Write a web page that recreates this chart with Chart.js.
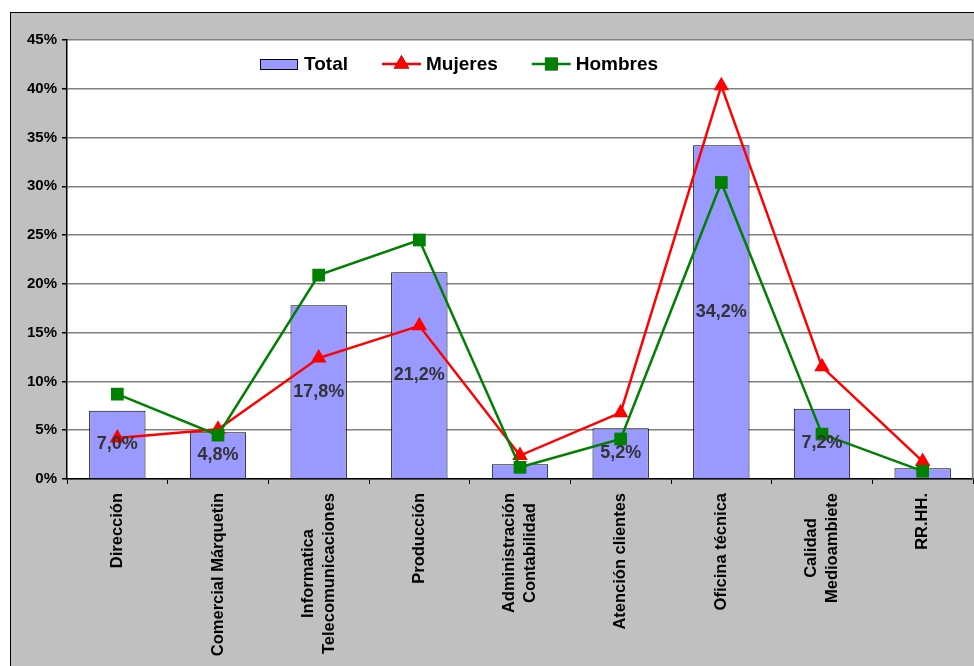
<!DOCTYPE html>
<html>
<head>
<meta charset="utf-8">
<script src="https://cdn.jsdelivr.net/npm/chart.js@4.4.0/dist/chart.umd.min.js"></script>
<style>
  html, body { margin: 0; padding: 0; background: #fff; }
  #chart { display: block; }
</style>
</head>
<body>
<canvas id="chart" width="974" height="666"></canvas>
<script>
// categories and series (percent)
const categorias = [
    'Dirección',
    'Comercial Márquetin',
    ['Informatica', 'Telecomunicaciones'],
    'Producción',
    ['Administración', 'Contabilidad'],
    'Atención clientes',
    'Oficina técnica',
    ['Calidad', 'Medioambiete'],
    'RR.HH.'
];
const total   = [7.0, 4.8, 17.8, 21.2, 1.5, 5.2, 34.2, 7.2, 1.1];
const mujeres = [4.2, 5.1, 12.4, 15.7, 2.4, 6.8, 40.3, 11.5, 1.8];
const hombres = [8.7, 4.5, 20.9, 24.5, 1.2, 4.1, 30.4, 4.6, 0.8];
const yMax = 45;
const yStep = 5;

const FONT = "'Liberation Sans', Arial, sans-serif";

// grey frame behind everything, white plot area
const fondo = {
    id: 'fondo',
    beforeDraw(chart) {
        const { ctx, chartArea: a, width, height } = chart;
        ctx.save();
        ctx.fillStyle = '#fff';
        ctx.fillRect(0, 0, width, height);
        ctx.fillStyle = '#c0c0c0';
        ctx.fillRect(10, 12, width - 10, height - 12);
        ctx.strokeStyle = '#000';
        ctx.lineWidth = 1;
        ctx.strokeRect(10.5, 12.5, width, height);
        ctx.fillStyle = '#fff';
        ctx.fillRect(a.left, a.top, a.right - a.left, a.bottom - a.top);
        ctx.restore();
    },
    afterDraw(chart) {
        const { ctx, chartArea: a } = chart;
        ctx.save();
        ctx.strokeStyle = '#808080';
        ctx.lineWidth = 1.5;
        ctx.beginPath();
        ctx.moveTo(a.right - 0.5, a.top);
        ctx.lineTo(a.right - 0.5, a.bottom);
        ctx.stroke();
        ctx.restore();
    }
};

// rotated category labels, lines centred on each other
const etiquetasX = {
    id: 'etiquetasX',
    afterDraw(chart) {
        const { ctx } = chart;
        const xs = chart.scales.x;
        const top = chart.chartArea.bottom + 14;
        const lh = 21;
        ctx.save();
        ctx.font = 'bold 16.5px ' + FONT;
        ctx.fillStyle = '#000';
        ctx.textAlign = 'center';
        ctx.textBaseline = 'middle';
        categorias.forEach((c, i) => {
            const lines = Array.isArray(c) ? c : [c];
            const w = Math.max(...lines.map(l => ctx.measureText(l).width));
            const x = xs.getPixelForTick(i);
            ctx.save();
            ctx.translate(x, top + w / 2);
            ctx.rotate(-Math.PI / 2);
            lines.forEach((l, j) => {
                ctx.fillText(l, 0, (j - (lines.length - 1) / 2) * lh);
            });
            ctx.restore();
        });
        ctx.restore();
    }
};

// value labels in the middle of the bars
const valores = {
    id: 'valores',
    afterDatasetsDraw(chart) {
        const { ctx } = chart;
        const meta = chart.getDatasetMeta(0);
        ctx.save();
        ctx.font = 'bold 18px ' + FONT;
        ctx.fillStyle = '#333';
        ctx.textAlign = 'center';
        ctx.textBaseline = 'middle';
        meta.data.forEach((bar, i) => {
            if (total[i] < 2) return;
            const txt = total[i].toFixed(1).replace('.', ',') + '%';
            ctx.fillText(txt, bar.x, (bar.y + bar.base) / 2);
        });
        ctx.restore();
    }
};

// legend inside the plot area
const leyenda = {
    id: 'leyenda',
    afterDraw(chart) {
        const { ctx } = chart;
        const y = 64;
        let x = 260;
        ctx.save();
        ctx.font = 'bold 19px ' + FONT;
        ctx.textBaseline = 'middle';
        ctx.textAlign = 'left';
        chart.data.datasets.forEach(ds => {
            if (ds.type === 'bar') {
                ctx.fillStyle = ds.backgroundColor;
                ctx.fillRect(x, y - 5, 37, 10);
                ctx.strokeStyle = '#000';
                ctx.lineWidth = 1;
                ctx.strokeRect(x + 0.5, y - 4.5, 37, 10);
            } else {
                ctx.strokeStyle = ds.borderColor;
                ctx.lineWidth = 2.5;
                ctx.beginPath();
                ctx.moveTo(x, y);
                ctx.lineTo(x + 39, y);
                ctx.stroke();
                Chart.helpers.drawPoint(ctx, {
                    pointStyle: ds.pointStyle,
                    radius: ds.pointRadius,
                    borderWidth: 0,
                    rotation: 0
                }, x + 19.5, y);
                ctx.fillStyle = ds.pointBackgroundColor;
                ctx.fill();
            }
            ctx.fillStyle = '#000';
            ctx.fillText(ds.label, x + 44, y + 1);
            x += 44 + ctx.measureText(ds.label).width + 34;
        });
        ctx.restore();
    }
};

new Chart(document.getElementById('chart'), {
    data: {
        labels: categorias,
        datasets: [
            {
                type: 'bar',
                label: 'Total',
                data: total,
                backgroundColor: '#9999ff',
                borderColor: '#000',
                borderWidth: 1,
                barPercentage: 0.56,
                categoryPercentage: 1,
                order: 3
            },
            {
                type: 'line',
                label: 'Mujeres',
                data: mujeres,
                borderColor: '#ff0000',
                backgroundColor: '#ff0000',
                pointBackgroundColor: '#ff0000',
                pointBorderColor: '#ff0000',
                borderWidth: 2.5,
                pointStyle: 'triangle',
                pointRadius: 9,
                pointBorderWidth: 0,
                tension: 0,
                order: 2
            },
            {
                type: 'line',
                label: 'Hombres',
                data: hombres,
                borderColor: '#008000',
                backgroundColor: '#008000',
                pointBackgroundColor: '#008000',
                pointBorderColor: '#008000',
                borderWidth: 2.5,
                pointStyle: 'rect',
                pointRadius: 9,
                pointBorderWidth: 0,
                tension: 0,
                order: 1
            }
        ]
    },
    options: {
        responsive: false,
        animation: false,
        layout: { autoPadding: false, padding: { top: 40, right: 1, left: 0, bottom: 0 } },
        plugins: {
            legend: { display: false },
            tooltip: { enabled: false }
        },
        scales: {
            x: {
                offset: true,
                grid: {
                    offset: true,
                    drawOnChartArea: false,
                    drawTicks: true,
                    tickLength: 5,
                    color: '#000'
                },
                border: { color: '#000', width: 1.5 },
                ticks: { display: false },
                afterFit(scale) { scale.height = 187; }
            },
            y: {
                min: 0,
                max: yMax,
                ticks: {
                    stepSize: yStep,
                    padding: 5,
                    color: '#000',
                    font: { family: FONT, size: 15, weight: 'bold' },
                    callback: v => v + '%'
                },
                grid: {
                    color: '#808080',
                    lineWidth: 1.5,
                    tickLength: 5,
                    tickColor: '#000'
                },
                border: { color: '#000', width: 1.5 },
                afterFit(scale) { scale.width = 67; }
            }
        }
    },
    plugins: [fondo, etiquetasX, valores, leyenda]
});
</script>
</body>
</html>
